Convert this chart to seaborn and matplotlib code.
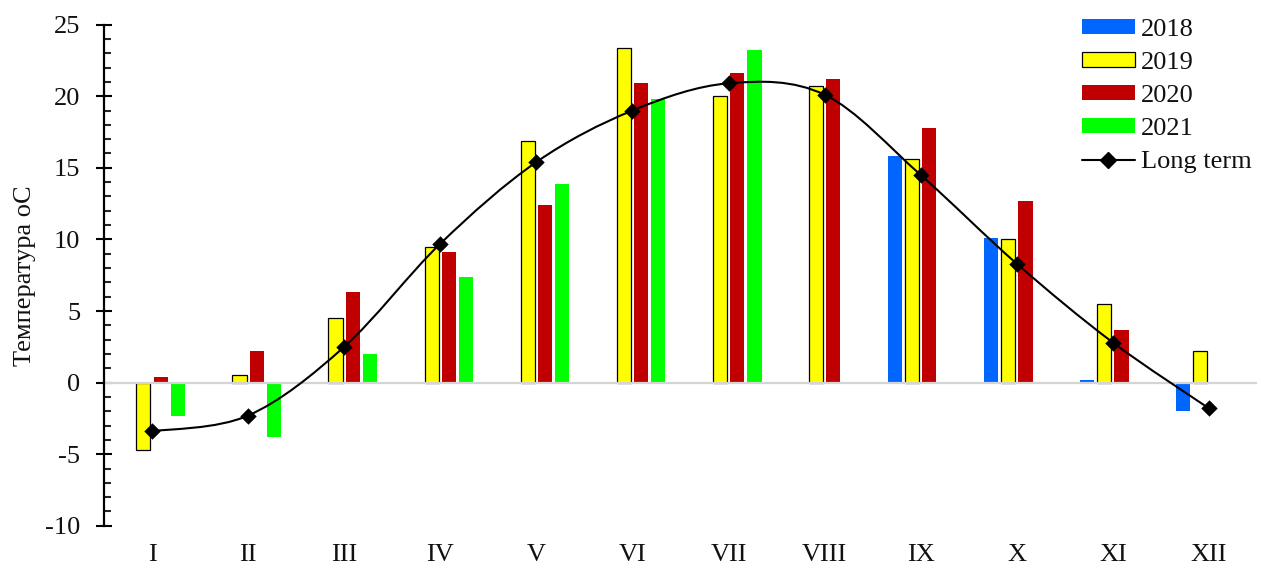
import numpy as np
import pandas as pd
import matplotlib
matplotlib.use("Agg")
import matplotlib.pyplot as plt
import seaborn as sns
from matplotlib.path import Path
from matplotlib.patches import PathPatch, Patch
from matplotlib.lines import Line2D
from matplotlib.ticker import MultipleLocator

nan = np.nan
months = ["I", "II", "III", "IV", "V", "VI", "VII", "VIII", "IX", "X", "XI", "XII"]
years = ["2018", "2019", "2020", "2021"]
t2018 = [nan, nan, nan, nan, nan, nan, nan, nan, 15.8, 10.1, 0.2, -2.0]
t2019 = [-4.7, 0.5, 4.5, 9.5, 16.9, 23.4, 20.0, 20.7, 15.6, 10.0, 5.5, 2.2]
t2020 = [0.4, 2.2, 6.3, 9.1, 12.4, 20.9, 21.6, 21.2, 17.8, 12.7, 3.7, nan]
t2021 = [-2.3, -3.8, 2.0, 7.4, 13.9, 19.8, 23.2, nan, nan, nan, nan, nan]
long_term = [-3.4, -2.3, 2.5, 9.7, 15.4, 19.0, 20.9, 20.1, 14.5, 8.3, 2.8, -1.8]
colors = ["#0066FF", "#FFFF00", "#C00000", "#00FF00"]

df = pd.DataFrame({
    "month": months * 4,
    "year": [y for y in years for _ in months],
    "temp": t2018 + t2019 + t2020 + t2021,
})

sns.set_theme(style="white")
plt.rcParams["font.family"] = ["Liberation Serif", "DejaVu Serif"]
plt.rcParams["axes.unicode_minus"] = False

fig = plt.figure(figsize=(12.66, 5.67), dpi=100)
ax = fig.add_axes([104 / 1266, 1 - 525.8 / 567, 1153 / 1266, (525.8 - 24.6) / 567])

sns.barplot(data=df, x="month", y="temp", hue="year", hue_order=years,
            order=months, palette=colors, width=0.72, gap=0.18,
            legend=False, ax=ax, saturation=1, errorbar=None)

for p in ax.patches:
    fc = p.get_facecolor()
    if fc[0] > 0.9 and fc[1] > 0.9 and fc[2] < 0.1:
        p.set_edgecolor("black")
        p.set_linewidth(0.9)
    else:
        p.set_linewidth(0)

ax.axhline(0, color="#d4d4d4", lw=1.6, zorder=1.5)

# smooth long-term curve (Catmull-Rom style Bezier through the data points)
xs = np.arange(len(long_term), dtype=float)
ys = np.array(long_term, dtype=float)
pts = np.column_stack([xs, ys])
ext = np.vstack([pts[0], pts, pts[-1]])
verts = [tuple(pts[0])]
codes = [Path.MOVETO]
for i in range(len(pts) - 1):
    p0, p1, p2, p3 = ext[i], ext[i + 1], ext[i + 2], ext[i + 3]
    c1 = p1 + (p2 - p0) / 6.0
    c2 = p2 - (p3 - p1) / 6.0
    verts += [tuple(c1), tuple(c2), tuple(p2)]
    codes += [Path.CURVE4] * 3
ax.add_patch(PathPatch(Path(verts, codes), fill=False, edgecolor="black",
                       lw=1.5, zorder=4))
sns.scatterplot(x=xs, y=ys, marker="D", color="black", s=70, ax=ax,
                zorder=5, edgecolor="black", linewidth=0)

ax.set_xlim(-0.5, 11.5)
ax.set_ylim(-10, 25)
ax.yaxis.set_major_locator(MultipleLocator(5))
ax.yaxis.set_minor_locator(MultipleLocator(1))
ax.tick_params(axis="y", which="major", direction="inout", length=11, width=1.5,
               labelsize=19, pad=11.5, left=True, colors="black")
ax.tick_params(axis="y", which="minor", direction="in", length=5, width=1.5,
               left=True)
ax.tick_params(axis="x", length=0, labelsize=19, pad=13)
for lab in ax.get_xticklabels() + ax.get_yticklabels():
    lab.set_color("#111111")

for s in ["top", "right", "bottom"]:
    ax.spines[s].set_visible(False)
ax.spines["left"].set_color("black")
ax.spines["left"].set_linewidth(1.6)

ax.set_xlabel("")
ax.set_ylabel("Температура оС", fontsize=19, color="#111111")
ax.yaxis.set_label_coords(-0.059, 0.5)

handles = [
    Patch(facecolor=colors[0], edgecolor="none"),
    Patch(facecolor=colors[1], edgecolor="black", linewidth=0.9),
    Patch(facecolor=colors[2], edgecolor="none"),
    Patch(facecolor=colors[3], edgecolor="none"),
    Line2D([], [], color="black", lw=1.5, marker="D", markersize=8),
]
labels = years + ["Long term"]
leg = fig.legend(handles, labels, loc="upper left",
                 bbox_to_anchor=(1082 / 1266, 1 - 19 / 567),
                 frameon=False, fontsize=19, handlelength=2.0,
                 handleheight=0.5, handletextpad=0.25, labelspacing=0.42,
                 borderpad=0, borderaxespad=0)
for t in leg.get_texts():
    t.set_color("#111111")

fig.savefig("out.png", dpi=100)
